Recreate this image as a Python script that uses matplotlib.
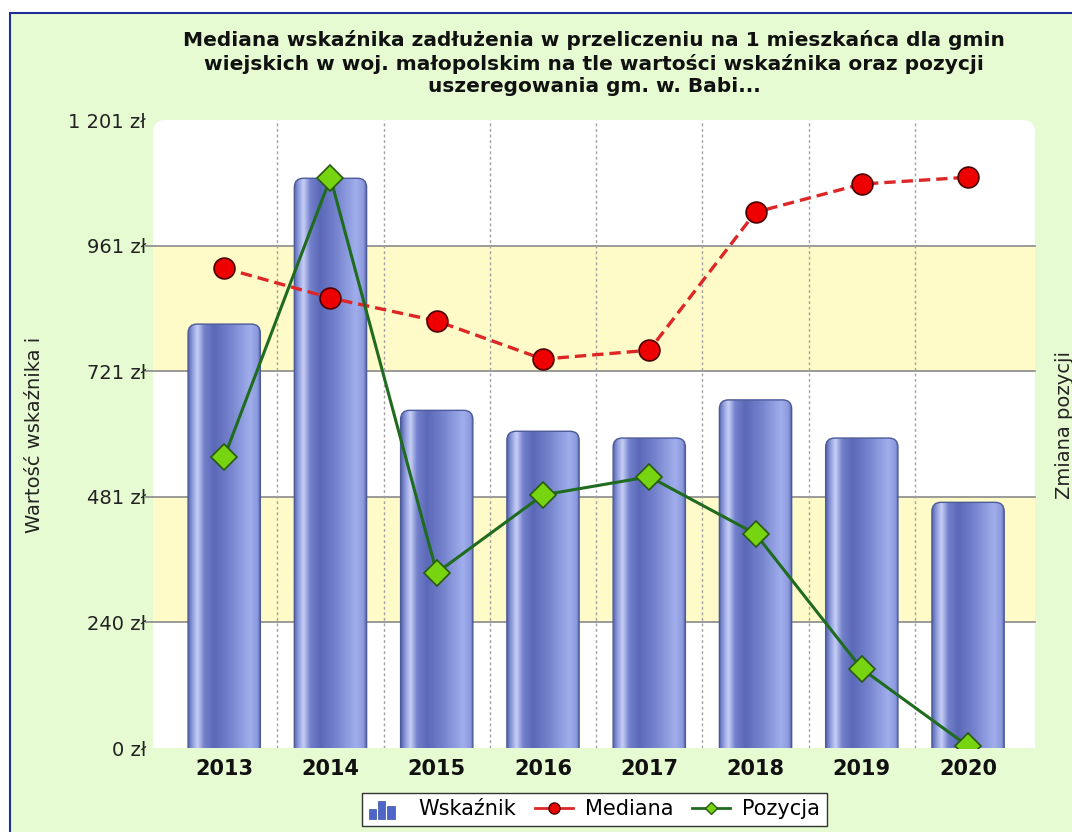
import matplotlib.pyplot as plt
import numpy as np
from matplotlib.patches import FancyBboxPatch, Rectangle
from matplotlib.colors import LinearSegmentedColormap
from matplotlib.lines import Line2D
from matplotlib.legend_handler import HandlerBase

# dane
years = ['2013', '2014', '2015', '2016', '2017', '2018', '2019', '2020']
wskaznik = [811, 1090, 646, 606, 593, 666, 593, 470]
mediana = [918, 861, 817, 744, 761, 1025, 1079, 1092]
pozycja = [46.3, 90.8, 27.9, 40.3, 43.2, 34.1, 12.6, 0.3]
y_ticks = [0, 240.3, 480.6, 720.9, 961.2, 1201.5]
y_labels = ['0 zł', '240 zł', '481 zł', '721 zł', '961 zł', '1 201 zł']
title = ('Mediana wskaźnika zadłużenia w przeliczeniu na 1 mieszkańca dla gmin\n'
         'wiejskich w woj. małopolskim na tle wartości wskaźnika oraz pozycji\n'
         'uszeregowania gm. w. Babi...')

W, H = 1072, 832
fig = plt.figure(figsize=(W / 100, H / 100), dpi=100, facecolor='white')
# zielone tło z niebieską ramką
fig.patches.append(Rectangle((10 / W, -0.1), 1.2, 1.1 - 13 / H, transform=fig.transFigure,
                             facecolor='#e6fbd2', edgecolor='#1f2f9a', lw=1.5, zorder=-5))

L, R, T, B = 153, 1035, 120, 748
ax = fig.add_axes([L / W, 1 - B / H, (R - L) / W, (B - T) / H])
ax.patch.set_facecolor('none')
for s in ax.spines.values():
    s.set_visible(False)

xlim = (-0.67, 7.63)
ylim = (0, 1201.5)
x = np.arange(len(years))

# białe pole wykresu z zaokrąglonymi górnymi rogami
asp_ax = (R - L) / (B - T)
bg = FancyBboxPatch((0, -0.1), 1, 1.1, boxstyle='round,pad=0,rounding_size=0.014',
                    mutation_aspect=asp_ax, transform=ax.transAxes,
                    facecolor='white', edgecolor='none', zorder=0)
ax.add_patch(bg)

# żółte pasy
ax.axhspan(y_ticks[1], y_ticks[2], color='#fffbc8', zorder=0.5, lw=0)
ax.axhspan(y_ticks[3], y_ticks[4], color='#fffbc8', zorder=0.5, lw=0)
for yv in y_ticks[1:5]:
    ax.axhline(yv, xmin=-7 / (R - L), xmax=1, color='#8a8a8a', lw=1.2, zorder=1, clip_on=False)
for i in range(len(years) - 1):
    ax.axvline(i + 0.5, color='#a0a0a0', ls=(0, (2, 2)), lw=1, zorder=1)

# słupki z gradientem
cmap = LinearSegmentedColormap.from_list('bar', [
    (0.0, '#5664b0'), (0.06, '#8e9cdc'), (0.13, '#c8d0f6'), (0.22, '#7482cc'),
    (0.36, '#5a68b8'), (0.6, '#7886d0'), (0.85, '#a0aeec'), (0.95, '#8e9ce0'),
    (1.0, '#5664ac')])
grad = np.linspace(0, 1, 256)[None, :]
bars = ax.bar(x, wskaznik, width=0.68, color='none', edgecolor='none', zorder=2)
px_x = (R - L) / (xlim[1] - xlim[0])
px_y = (B - T) / (ylim[1] - ylim[0])
for rect in bars:
    x0, w, h = rect.get_x(), rect.get_width(), rect.get_height()
    shape = FancyBboxPatch((x0, -40), w, h + 40, boxstyle='round,pad=0,rounding_size=0.085',
                           mutation_aspect=px_x / px_y, facecolor='none',
                           edgecolor='#4d5a98', lw=1, zorder=2.1)
    ax.add_patch(shape)
    im = ax.imshow(grad, cmap=cmap, extent=(x0, x0 + w, 0, h), aspect='auto',
                   interpolation='bicubic', zorder=2)
    im.set_clip_path(shape)

ax.plot(x, mediana, color='#dd2626', ls=(0, (3.4, 1.8)), lw=2.4, marker='o', ms=15,
        mfc='#ee0000', mec='#4a0000', mew=1.2, zorder=4)

ax.set_xlim(xlim)
ax.set_ylim(ylim)
ax.set_yticks(y_ticks)
ax.set_yticklabels(y_labels, fontsize=14, color='#222222')
ax.set_xticks(x)
ax.set_xticklabels(years, fontsize=15, fontweight='bold', color='#111111')
ax.tick_params(axis='both', length=0)
ax.tick_params(axis='y', pad=5)
ax.tick_params(axis='x', pad=8)

ax2 = ax.twinx()
for s in ax2.spines.values():
    s.set_visible(False)
ax2.plot(x, pozycja, color='#1f6b1f', lw=2.2, marker='D', ms=13.5,
         mfc='#77d411', mec='#2a5a10', mew=1.2, zorder=5)
ax2.set_ylim(0, 100)
ax2.set_yticks([])

fig.text(35 / W, 1 - 435 / H, 'Wartość wskaźnika i', rotation=90, ha='center', va='center',
         fontsize=14, color='#222222')
fig.text(1064 / W, 1 - 425 / H, 'Zmiana pozycji', rotation=90, ha='center', va='center',
         fontsize=14, color='#222222')
fig.text(594 / W, 1 - 30 / H, title, ha='center', va='top', fontsize=14.5, fontweight='bold',
         color='#111111', linespacing=1.24)


class BarIcon(HandlerBase):
    def create_artists(self, legend, orig, xd, yd, width, height, fontsize, trans):
        bw = width * 0.2
        arts = []
        for k, frac in enumerate([0.7, 1.25, 0.9]):
            arts.append(Rectangle((-xd + k * (bw + 1.2), -yd - 3), bw, height * frac,
                                  facecolor='#4f66c8', edgecolor='#3a4fa8', lw=0.5,
                                  transform=trans))
        return arts


h_bar = Rectangle((0, 0), 1, 1)
h_med = Line2D([], [], color='#dd2626', lw=2, marker='o', ms=8, mfc='#ee0000', mec='#4a0000')
h_poz = Line2D([], [], color='#1f6b1f', lw=2, marker='D', ms=6, mfc='#77d411', mec='#2a5a10')
fig.legend([h_bar, h_med, h_poz], ['Wskaźnik', 'Mediana', 'Pozycja'],
           handler_map={Rectangle: BarIcon()}, loc='upper center',
           bbox_to_anchor=(594.5 / W, 1 - 793 / H), ncol=3, fontsize=15, frameon=True,
           fancybox=False, edgecolor='#333333', framealpha=1, handlelength=1.8,
           handletextpad=0.6, columnspacing=0.9, borderpad=0.3, borderaxespad=0)

fig.savefig('out.png', dpi=100, facecolor=fig.get_facecolor())
